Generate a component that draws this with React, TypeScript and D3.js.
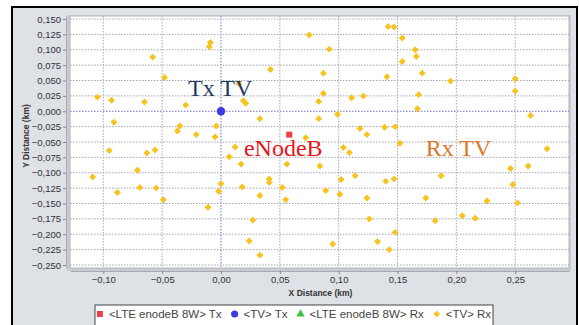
import React, { useEffect, useRef } from 'react';
import * as d3 from 'd3';

const xTicks = [-0.1, -0.05, 0, 0.05, 0.1, 0.15, 0.2, 0.25];
const yTicks = [0.15, 0.125, 0.1, 0.075, 0.05, 0.025, 0, -0.025, -0.05, -0.075, -0.1, -0.125, -0.15, -0.175, -0.2, -0.225, -0.25];

// <LTE enodeB 8W> Tx and <TV> Tx
const lteTx = [[0.058, -0.038]];
const tvTx = [[0, 0]];

// <TV> Rx points [x km, y km]
const tvRx = [
  [0.075, 0.124], [-0.009, 0.112], [-0.010, 0.105], [-0.058, 0.088], [-0.048, 0.055],
  [0.042, 0.068], [0.015, 0.045], [-0.105, 0.023], [-0.093, 0.018], [-0.065, 0.015],
  [-0.030, 0.010], [0.019, 0.017], [0.021, 0.013], [0.033, -0.012], [-0.091, -0.018],
  [-0.035, -0.024], [-0.037, -0.032], [-0.004, -0.024], [-0.021, -0.038], [-0.005, -0.042],
  [0.072, -0.043], [0.083, 0.016], [0.083, -0.012], [0.142, 0.138], [0.147, 0.137],
  [0.154, 0.119], [0.092, 0.101], [0.165, 0.100], [0.166, 0.089], [0.154, 0.081],
  [0.087, 0.062], [0.141, 0.056], [0.171, 0.062], [0.195, 0.049], [0.250, 0.053],
  [0.250, 0.033], [0.087, 0.029], [0.111, 0.022], [0.121, 0.025], [0.168, 0.027],
  [0.167, 0.004], [0.099, -0.005], [0.263, -0.007], [0.118, -0.028], [0.124, -0.038],
  [0.139, -0.026], [0.148, -0.025], [-0.095, -0.064], [-0.063, -0.068], [-0.056, -0.063],
  [0.012, -0.058], [0.007, -0.074], [0.017, -0.086], [0.056, -0.086], [0.084, -0.089],
  [-0.109, -0.107], [-0.071, -0.096], [-0.088, -0.132], [-0.069, -0.124], [-0.055, -0.125],
  [-0.049, -0.144], [0.000, -0.118], [-0.002, -0.130], [-0.011, -0.156], [0.018, -0.123],
  [0.041, -0.110], [0.041, -0.116], [0.033, -0.137], [0.052, -0.124], [0.055, -0.144],
  [0.027, -0.177], [0.024, -0.211], [0.033, -0.234], [0.089, -0.129], [0.104, -0.059],
  [0.109, -0.067], [0.102, -0.111], [0.101, -0.135], [0.114, -0.105], [0.124, -0.141],
  [0.126, -0.175], [0.095, -0.216], [0.133, -0.212], [0.143, -0.225], [0.140, -0.114],
  [0.147, -0.110], [0.148, -0.197], [0.152, -0.052], [0.187, -0.105], [0.174, -0.141],
  [0.182, -0.178], [0.205, -0.170], [0.216, -0.174], [0.226, -0.146], [0.246, -0.093],
  [0.261, -0.089], [0.277, -0.061], [0.248, -0.119], [0.252, -0.149],
];

const notes = [
  { text: 'Tx TV', x: -0.028, y: 0.025, color: '#1f3a63' },
  { text: 'eNodeB', x: 0.0195, y: -0.073, color: '#e8141c' },
  { text: 'Rx TV', x: 0.174, y: -0.073, color: '#d9772b' },
];

const legendLabels = ['<LTE enodeB 8W> Tx', '<TV> Tx', '<LTE enodeB 8W> Rx', '<TV> Rx'];
const legendColors = ['#ef3e4a', '#3b3be6', '#3cc43c', '#f6c31f'];

const W = 579;
const H = 325;
const sans = '"Liberation Sans", Arial, sans-serif';

function App() {
  const ref = useRef<SVGSVGElement>(null);

  useEffect(() => {
    const svg = d3.select(ref.current);
    svg.selectAll('*').remove();

    const left = 70, right = 569, top = 16, bottom = 268;
    const x = d3.scaleLinear().domain([-0.1283, 0.2957]).range([left, right]);
    const y = d3.scaleLinear().domain([-0.2549, 0.1549]).range([bottom, top]);

    svg.append('rect').attr('width', W).attr('height', H).attr('fill', '#fff');
    svg.append('rect')
      .attr('x', 12).attr('y', 7).attr('width', 565).attr('height', 330)
      .attr('fill', '#dee1e6').attr('stroke', '#000').attr('stroke-width', 2);

    // plot area with light bevel
    svg.append('rect')
      .attr('x', left - 3).attr('y', top - 1).attr('width', right - left + 5).attr('height', bottom - top + 4)
      .attr('fill', '#c9ccd2');
    svg.append('rect')
      .attr('x', left).attr('y', top).attr('width', right - left).attr('height', bottom - top)
      .attr('fill', '#fff').attr('stroke', '#b4b6ba');

    const grid = svg.append('g');
    grid.selectAll('line.v').data(xTicks).enter().append('line')
      .attr('x1', d => x(d)).attr('x2', d => x(d))
      .attr('y1', top).attr('y2', bottom)
      .attr('stroke', d => d === 0 ? '#6f6fc8' : '#a9a9a9')
      .attr('stroke-dasharray', '1.5,1.5');
    grid.selectAll('line.h').data(yTicks).enter().append('line')
      .attr('x1', left).attr('x2', right)
      .attr('y1', d => y(d)).attr('y2', d => y(d))
      .attr('stroke', d => d === 0 ? '#6f6fc8' : '#a4a4b0')
      .attr('stroke-dasharray', '1.5,1.5');

    const fmt = (p: number) => (v: d3.NumberValue) => d3.format(`.${p}f`)(+v).replace('.', ',');

    const yAxis = svg.append('g').attr('transform', `translate(${left - 4},0)`)
      .call(d3.axisLeft(y).tickValues(yTicks).tickSize(3).tickSizeOuter(0).tickPadding(2).tickFormat(fmt(3)));
    const xAxis = svg.append('g').attr('transform', `translate(0,${bottom + 3})`)
      .call(d3.axisBottom(x).tickValues(xTicks).tickSize(3).tickSizeOuter(0).tickPadding(2).tickFormat(fmt(2)));
    [yAxis, xAxis].forEach(a => {
      a.select('.domain').attr('stroke', '#a8aab0');
      a.selectAll('.tick line').attr('stroke', '#888');
      a.selectAll('.tick text').attr('fill', '#333').attr('font-family', sans).attr('font-size', 9.5);
    });

    svg.append('text')
      .attr('x', (left + right) / 2 + 1).attr('y', 296)
      .attr('text-anchor', 'middle').attr('font-family', sans).attr('font-weight', 'bold')
      .attr('font-size', 8.5).attr('fill', '#333')
      .text('X Distance (km)');
    svg.append('text')
      .attr('transform', `translate(29,${(top + bottom) / 2 - 6}) rotate(-90)`)
      .attr('text-anchor', 'middle').attr('font-family', sans).attr('font-weight', 'bold')
      .attr('font-size', 8.5).attr('fill', '#333')
      .text('Y Distance (km)');

    const diamond = d3.symbol(d3.symbolSquare, 24);
    svg.append('g').selectAll('path').data(tvRx).enter().append('path')
      .attr('d', diamond)
      .attr('transform', d => `translate(${x(d[0])},${y(d[1])}) rotate(45)`)
      .attr('fill', legendColors[3]);

    svg.append('g').selectAll('rect').data(lteTx).enter().append('rect')
      .attr('x', d => x(d[0]) - 3).attr('y', d => y(d[1]) - 3)
      .attr('width', 6).attr('height', 6)
      .attr('fill', legendColors[0]);

    svg.append('g').selectAll('circle').data(tvTx).enter().append('circle')
      .attr('cx', d => x(d[0])).attr('cy', d => y(d[1])).attr('r', 4.2)
      .attr('fill', legendColors[1]);

    svg.append('g').selectAll('text').data(notes).enter().append('text')
      .attr('x', d => x(d.x)).attr('y', d => y(d.y))
      .attr('font-family', '"Liberation Serif", "Times New Roman", serif')
      .attr('font-size', 24).attr('fill', d => d.color)
      .text(d => d.text);

    // legend
    const lx = 95, ly = 305, lw = 398;
    svg.append('rect')
      .attr('x', lx).attr('y', ly).attr('width', lw).attr('height', 30)
      .attr('fill', '#fff').attr('stroke', '#444');
    const lg = svg.append('g');
    const shapes = [d3.symbolSquare, d3.symbolCircle, d3.symbolTriangle, d3.symbolSquare];
    const sizes = [36, 40, 30, 22];
    let cx = 0;
    const cy = ly + 9;
    legendLabels.forEach((label, i) => {
      lg.append('path')
        .attr('d', d3.symbol(shapes[i], sizes[i]))
        .attr('transform', `translate(${cx + 3},${cy})${i === 3 ? ' rotate(45)' : ''}`)
        .attr('fill', legendColors[i]);
      const t = lg.append('text')
        .attr('x', cx + 12).attr('y', cy + 4)
        .attr('font-family', sans).attr('font-size', 11.5).attr('fill', '#444')
        .text(label);
      const tw = (t.node() as SVGTextElement).getComputedTextLength();
      cx += 12 + tw + 10;
    });
    const total = cx - 10;
    lg.attr('transform', `translate(${lx + (lw - total) / 2},0)`);
  }, []);

  return (
    <svg ref={ref} width={W} height={H} style={{ position: 'absolute', left: 0, top: 0 }} />
  );
}

export default App;
